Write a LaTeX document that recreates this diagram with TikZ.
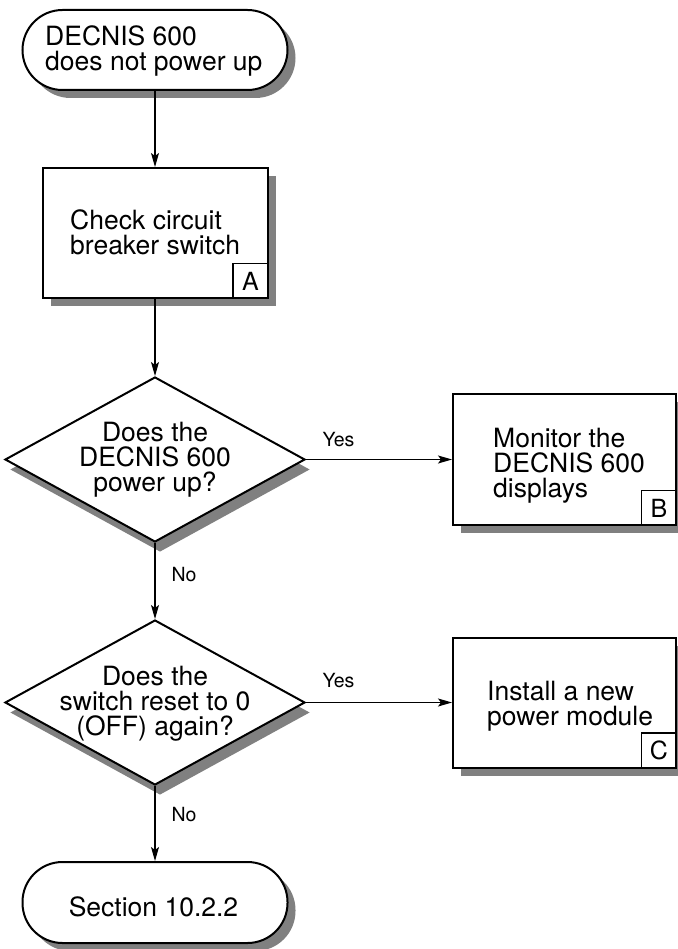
\documentclass[tikz,border=0pt]{standalone}
\usepackage{fontspec}
\setmainfont{TeX Gyre Heros}
\usetikzlibrary{shapes.geometric,shadows,arrows.meta}
\definecolor{shadowgray}{RGB}{128,128,128}
\begin{document}
\begin{tikzpicture}[x=1pt,y=-1pt,
  shp/.style={draw=black, line width=2pt, fill=white, inner sep=0pt},
  shd/.style={drop shadow={shadow xshift=8pt, shadow yshift=-8pt, fill=shadowgray, opacity=1}},
  dshd/.style={drop shadow={shadow xshift=5pt, shadow yshift=-10pt, fill=shadowgray, opacity=1}},
  term/.style={shp, shd, rectangle, rounded corners=40pt, minimum width=265pt, minimum height=80pt},
  box/.style={shp, shd, rectangle},
  dia/.style={shp, dshd, diamond, minimum width=300pt, minimum height=165pt},
  letterbox/.style={draw=black, line width=1.1pt, rectangle, inner sep=0pt, minimum width=35pt, minimum height=35pt, anchor=south east, font=\fontsize{25}{25}\selectfont},
  txt/.style={inner sep=0pt, font=\fontsize{26.5}{25}\selectfont},
  lbl/.style={inner sep=0pt, font=\fontsize{19.5}{20}\selectfont},
  arr/.style={line width=1.1pt, -{Stealth[length=14pt,width=8pt,inset=3pt]}}
]
\useasboundingbox (0,0) rectangle (677,949);

% shapes
\node[term] (start) at (155,50) {};
\node[box, minimum width=225pt, minimum height=130pt] (boxA) at (155,233) {};
\node[letterbox] (la) at (boxA.south east) {A};
\node[dia] (d1) at (155,459.5) {};
\node[box, minimum width=223pt, minimum height=131pt] (boxB) at (564.5,459.5) {};
\node[letterbox] (lb) at (boxB.south east) {B};
\node[dia] (d2) at (155,702.5) {};
\node[box, minimum width=223pt, minimum height=130pt] (boxC) at (564.5,702.5) {};
\node[letterbox] (lc) at (boxC.south east) {C};
\node[term, minimum height=81pt] (end) at (155,902.5) {};

% texts
\node[txt, align=left, anchor=west] (t0) at (45,51) {DECNIS 600\\does not power up};
\node[txt, align=left, anchor=west] (tA) at (70,232.5) {Check circuit\\breaker switch};
\node[txt, align=center] (t1) at (155,460) {Does the\\DECNIS 600\\power up?};
\node[txt, align=left, anchor=west] (tB) at (493,466) {Monitor the\\DECNIS 600\\displays};
\node[txt, align=center] (t2) at (155,704) {Does the\\switch reset to 0\\(OFF) again?};
\node[txt, align=left, anchor=west] (tC) at (487,706.5) {Install a new\\power module};
\node[txt] (tE) at (153.5,907) {Section 10.2.2};

% connectors
\draw[arr] (start.south) -- (boxA.north);
\draw[arr] (boxA.south) -- (d1.north);
\draw[arr] (d1.east) -- (boxB.west);
\draw[arr] (d1.south) -- (d2.north);
\draw[arr] (d2.east) -- (boxC.west);
\draw[arr] (d2.south) -- (end.north);

% labels
\node[lbl] (yes1) at (338.5,440) {Yes};
\node[lbl] (yes2) at (338.5,680.5) {Yes};
\node[lbl] (no1) at (184,574.5) {No};
\node[lbl] (no2) at (184,814.5) {No};
\end{tikzpicture}
\end{document}
